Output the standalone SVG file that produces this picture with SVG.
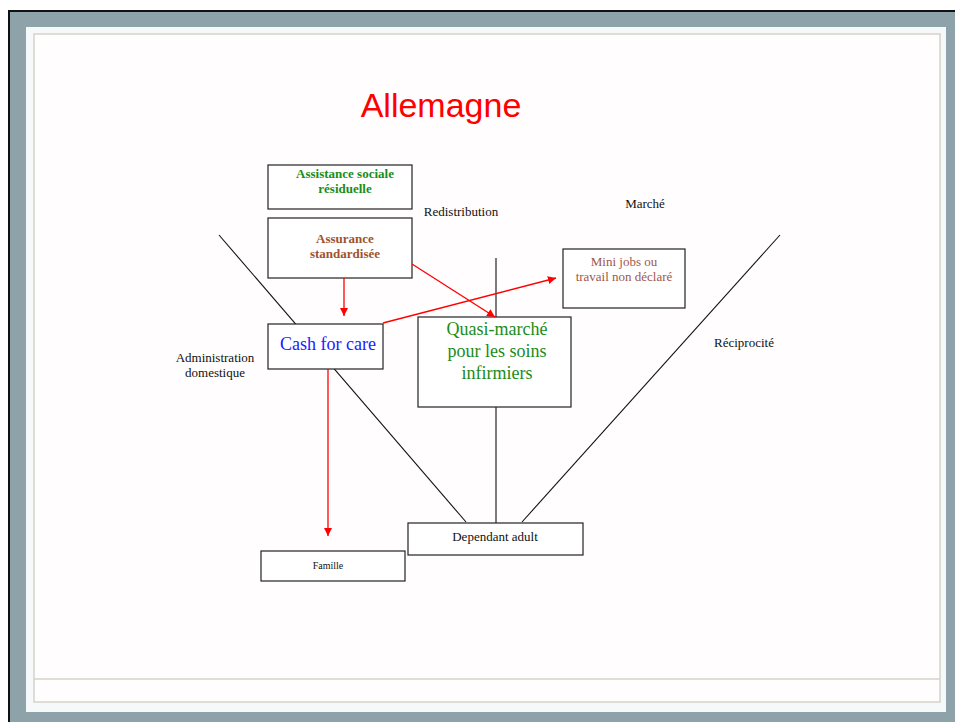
<svg xmlns="http://www.w3.org/2000/svg" width="955" height="722" viewBox="0 0 955 722">
<style>
.box{fill:#fff;stroke:#222;stroke-width:1.2}
.ln{stroke:#111;stroke-width:1.1;fill:none}
.ar{stroke:#ff0000;stroke-width:1.3;fill:none;marker-end:url(#ah)}
.t{font-family:"Liberation Serif","Times New Roman",serif;text-anchor:middle}
</style>
<defs>
<marker id="ah" viewBox="0 0 10 10" refX="10" refY="5" markerWidth="8.5" markerHeight="8" markerUnits="userSpaceOnUse" orient="auto">
<path d="M0,0 L10,5 L0,10 z" fill="#ff0000"/>
</marker>
</defs>
<rect width="955" height="722" fill="#fff"/>
<g id="frame">
<rect x="8" y="10" width="960" height="720" fill="#8ea2aa"/>
<rect x="8" y="10" width="960" height="2" fill="#111"/>
<rect x="8" y="10" width="2" height="720" fill="#111"/>
<rect x="26" y="27" width="920" height="685" fill="#f6f9fa"/>
<rect x="34" y="34" width="906" height="668" fill="#fffdfd" stroke="#d5d2c8" stroke-width="1.5"/>
<line x1="34" y1="679" x2="940" y2="679" stroke="#d5d2c8" stroke-width="1.5"/>
</g>
<g id="connectors">
<line class="ln" x1="219" y1="235" x2="466" y2="522"/>
<line class="ln" x1="780" y1="235" x2="522" y2="522"/>
<line class="ln" x1="496" y1="258" x2="496" y2="523"/>
</g>
<g id="title"><text class="t" x="441" y="117" style="font-family:'Liberation Sans',Arial,sans-serif" font-size="34" fill="#ff0000">Allemagne</text></g>
<g id="assistance">
<rect class="box" x="268" y="165" width="144" height="44"/>
<text class="t" x="345" y="178" font-size="13" font-weight="bold" fill="#1a8c1a">Assistance sociale</text>
<text class="t" x="345" y="193" font-size="13" font-weight="bold" fill="#1a8c1a">résiduelle</text>
</g>
<g id="assurance">
<rect class="box" x="268" y="218" width="144" height="60"/>
<text class="t" x="345" y="243" font-size="13" font-weight="bold" fill="#a0522d">Assurance</text>
<text class="t" x="345" y="258" font-size="13" font-weight="bold" fill="#a0522d">standardisée</text>
</g>
<g id="redistribution"><text class="t" x="461" y="216" font-size="13" fill="#111">Redistribution</text></g>
<g id="marche"><text class="t" x="645" y="208" font-size="13" fill="#111">Marché</text></g>
<g id="minijobs">
<rect class="box" x="563" y="249" width="122" height="59"/>
<text class="t" x="624" y="266" font-size="13" fill="#a0574a">Mini jobs ou</text>
<text class="t" x="624" y="281" font-size="13" fill="#a0574a">travail non déclaré</text>
</g>
<g id="cash">
<rect class="box" x="268" y="324" width="115" height="45"/>
<text class="t" x="328" y="350" font-size="18" fill="#2020ff">Cash for care</text>
</g>
<g id="quasi">
<rect class="box" x="418" y="317" width="153" height="90"/>
<text class="t" x="497" y="335" font-size="18" fill="#1a8c1a">Quasi-marché</text>
<text class="t" x="497" y="357" font-size="18" fill="#1a8c1a">pour les soins</text>
<text class="t" x="497" y="379" font-size="18" fill="#1a8c1a">infirmiers</text>
</g>
<g id="administration">
<text class="t" x="215" y="362" font-size="13" fill="#111">Administration</text>
<text class="t" x="215" y="377" font-size="13" fill="#111">domestique</text>
</g>
<g id="reciprocite"><text class="t" x="744" y="347" font-size="13" fill="#111">Réciprocité</text></g>
<g id="dependant">
<rect class="box" x="408" y="523" width="175" height="32"/>
<text class="t" x="495" y="541" font-size="13" fill="#111">Dependant adult</text>
</g>
<g id="famille">
<rect class="box" x="261" y="551" width="144" height="30"/>
<text class="t" x="328" y="569" font-size="10" fill="#111">Famille</text>
</g>
<g id="arrows">
<line class="ar" x1="344" y1="278" x2="344" y2="316"/>
<line class="ar" x1="412" y1="264" x2="495" y2="317"/>
<line class="ar" x1="383" y1="323" x2="556" y2="278"/>
<line class="ar" x1="328" y1="369" x2="328" y2="536"/>
</g>
</svg>
